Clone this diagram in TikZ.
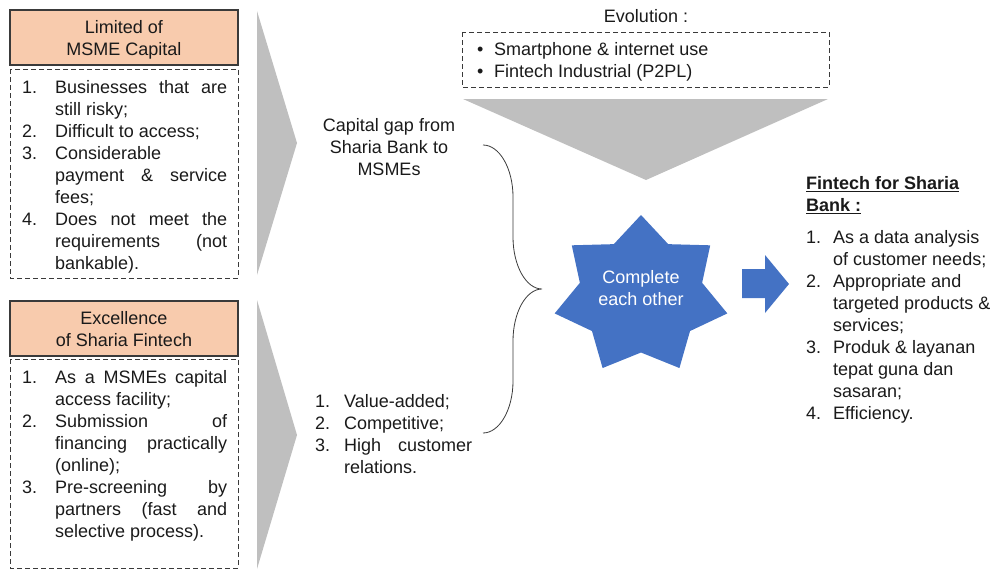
\documentclass[tikz,border=0pt]{standalone}
\usepackage{fontspec}
\setmainfont{Liberation Sans}
\definecolor{hdrfill}{HTML}{F8CBAD}
\definecolor{hdrline}{HTML}{3A3A3A}
\definecolor{chevron}{HTML}{BFBFBF}
\definecolor{starblue}{HTML}{4472C4}
\definecolor{ink}{HTML}{1A1A1A}
\newcommand\fs{\fontsize{18}{22}\selectfont}
\newcommand\jst[2]{\makebox[#1][s]{#2}}
\newcommand\numA[1]{\strut\makebox[33pt][l]{#1}}
\newcommand\contA{\strut\hspace*{33pt}}
\newcommand\numC[1]{\strut\makebox[29pt][l]{#1}}
\newcommand\contC{\strut\hspace*{29pt}}
\newcommand\numD[1]{\strut\makebox[27pt][l]{#1}}
\newcommand\contD{\strut\hspace*{27pt}}
\begin{document}
\begin{tikzpicture}[x=1pt,y=-1pt,
  txt/.style={inner sep=0pt,font=\fs,text=ink,align=left,anchor=north west},
  ctxt/.style={inner sep=0pt,font=\fs,text=ink,align=center,anchor=north},
  hdr/.style={draw=hdrline,line width=1.3pt,fill=hdrfill,minimum width=228pt,minimum height=55pt,inner sep=0pt},
  hdrtxt/.style={inner sep=0pt,font=\fs,text=ink,align=center},
  dashbox/.style={draw=hdrline,line width=1pt,dash pattern=on 5pt off 3pt},
  chev/.style={fill=chevron},
  brace/.style={draw=hdrline,line width=0.8pt},
  blockarrow/.style={fill=starblue}]
\useasboundingbox (0,0) rectangle (995,570);

% ---- left column: limitations of MSME capital ----
\node[hdr] (hdrA) at (124,37.5) {};
\node[hdrtxt] (hdrAt) at ([yshift=-2.5pt]hdrA.center) {\strut Limited of\\\strut MSME Capital};
\draw[dashbox] (10,69) rectangle (238,278);
\node[txt] (listA) at (22,78) {%
\numA{1.}\jst{172pt}{Businesses that are}\\
\contA still risky;\\
\numA{2.}Difficult to access;\\
\numA{3.}Considerable\\
\contA\jst{172pt}{payment \& service}\\
\contA fees;\\
\numA{4.}\jst{172pt}{Does not meet the}\\
\contA\jst{172pt}{requirements (not}\\
\contA bankable).};

% ---- left column: strengths of Sharia fintech ----
\node[hdr] (hdrB) at (124,328.5) {};
\node[hdrtxt] (hdrBt) at ([yshift=-2.5pt]hdrB.center) {\strut Excellence\\\strut of Sharia Fintech};
\draw[dashbox] (10,359) rectangle (238,568);
\node[txt] (listB) at (22,368) {%
\numA{1.}\jst{172pt}{As a MSMEs capital}\\
\contA access facility;\\
\numA{2.}\jst{172pt}{Submission of}\\
\contA\jst{172pt}{financing practically}\\
\contA (online);\\
\numA{3.}\jst{172pt}{Pre-screening by}\\
\contA\jst{172pt}{partners (fast and}\\
\contA selective process).};

% ---- chevrons ----
\fill[chev] (257,11) -- (297,143) -- (257,275) -- cycle;
\fill[chev] (257,300) -- (297,435) -- (257,569) -- cycle;

% ---- middle texts ----
\node[ctxt] (gap) at (389,116) {\strut Capital gap from\\\strut Sharia Bank to\\\strut MSMEs};
\node[txt] (listC) at (315,392) {%
\numC{1.}Value-added;\\
\numC{2.}Competitive;\\
\numC{3.}\jst{128pt}{High customer}\\
\contC relations.};

% ---- evolution ----
\node[ctxt] (evo) at (646,7) {\strut Evolution :};
\draw[dashbox] (462,32) rectangle (829,87);
\node[txt] (evolist) at (477,40) {%
\strut\makebox[17pt][l]{\textbullet}Smartphone \& internet use\\
\strut\makebox[17pt][l]{\textbullet}Fintech Industrial (P2PL)};
\fill[chev] (463,99) -- (828,99) -- (646,180) -- cycle;

% ---- brace ----
\coordinate (braceTop) at (483,145);
\coordinate (braceTip) at (542,289);
\coordinate (braceBot) at (483,433);
\draw[brace] (braceTop) .. controls (499.5,145) and (513,168.5) .. (513,197)
  -- (513,237) .. controls (513,265.5) and (526,289) .. (braceTip)
  .. controls (526,289) and (513,312.5) .. (513,341)
  -- (513,381) .. controls (513,409.5) and (499.5,433) .. (braceBot);

% ---- seven-pointed star ----
\begin{scope}[shift={(641,295.5)},xscale=1.1,yscale=-1]
  \fill[starblue] (90:80.5)
    \foreach \k in {0,...,6} { -- ({115.714+\k*51.4286}:57) -- ({141.4286+\k*51.4286}:80.5) }
    -- cycle;
\end{scope}
\node[hdrtxt,text=white] (star) at (641,290.5) {\strut Complete\\\strut each other};

% ---- block arrow ----
\fill[blockarrow] (742,269) -- (765,269) -- (765,255) -- (789,284)
  -- (765,313) -- (765,298) -- (742,298) -- cycle;

% ---- outcomes ----
\node[txt,font=\fs\bfseries] (title) at (806,174) {%
\strut\underline{Fintech for Sharia}\\
\strut\underline{Bank :}};
\node[txt] (listD) at (806,228) {%
\numD{1.}As a data analysis\\
\contD of customer needs;\\
\numD{2.}Appropriate and\\
\contD targeted products \&\\
\contD services;\\
\numD{3.}Produk \& layanan\\
\contD tepat guna dan\\
\contD sasaran;\\
\numD{4.}Efficiency.};
\end{tikzpicture}
\end{document}
